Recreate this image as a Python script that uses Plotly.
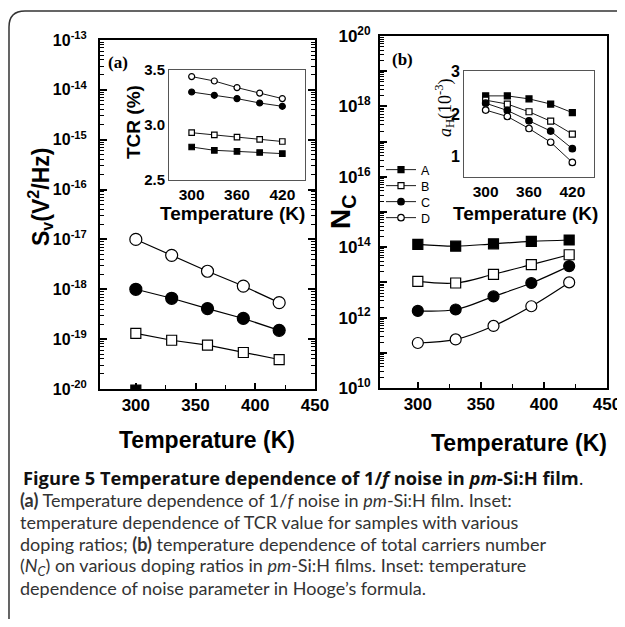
import plotly.graph_objects as go

# The page body keeps an 8px margin; the figure is sized so the page never
# overflows the 625x627 window, and all layout positions (given below in
# page pixels) are shifted by OFF.
OFF = 8
W, H = 625 - OFF, 627 - 2 * OFF

# ---------------- data ----------------
temps = [300, 330, 360, 390, 420]
series_names = ["A", "B", "C", "D"]

# Panel (a): noise PSD S_v (V^2/Hz)
sv_A = [0.95e-20, None, None, None, None]
sv_B = [1.3e-19, 9.5e-20, 7.6e-20, 5.4e-20, 3.9e-20]
sv_C = [1.0e-18, 6.6e-19, 4.1e-19, 2.6e-19, 1.5e-19]
sv_D = [1.0e-17, 4.8e-18, 2.3e-18, 1.16e-18, 5.4e-19]

# Inset (a): TCR (%)
tcr_A = [2.80, 2.77, 2.76, 2.75, 2.74]
tcr_B = [2.93, 2.91, 2.89, 2.87, 2.85]
tcr_C = [3.30, 3.27, 3.24, 3.20, 3.17]
tcr_D = [3.44, 3.40, 3.34, 3.29, 3.24]

# Panel (b): total carriers number N_C
nc_A = [1.2e14, 1.07e14, 1.25e14, 1.46e14, 1.6e14]
nc_B = [1.07e13, 9.6e12, 1.7e13, 3.2e13, 6.1e13]
nc_C = [1.55e12, 1.7e12, 4.0e12, 9.6e12, 2.9e13]
nc_D = [1.9e11, 2.4e11, 5.8e11, 2.1e12, 1.0e13]

# Inset (b): Hooge parameter a_H (10^-3)
ah_A = [2.42, 2.42, 2.35, 2.23, 2.03]
ah_B = [2.32, 2.23, 2.05, 1.83, 1.53]
ah_C = [2.25, 2.08, 1.84, 1.60, 1.19]
ah_D = [2.09, 1.94, 1.66, 1.34, 0.87]

x_ticks_main = [300, 350, 400, 450]
x_ticks_inset = [300, 360, 420]
sv_decades = list(range(-20, -12))
nc_decades = list(range(10, 21))
tcr_ticks = [2.5, 3.0, 3.5]
ah_ticks = [1, 2, 3]

# ---------------- helpers ----------------
def px(x):
    return (x - OFF) / W

def py(y):
    return 1 - (y - OFF) / H

SANS = "Liberation Sans, Arial, sans-serif"
SERIF = "Liberation Serif, Times New Roman, serif"

styles = {
    "A": dict(symbol="square", color="black"),
    "B": dict(symbol="square", color="white"),
    "C": dict(symbol="circle", color="black"),
    "D": dict(symbol="circle", color="white"),
}
legend_ids = {"A": "legend", "B": "legend2", "C": "legend3", "D": "legend4"}
legend_y = {"A": 170, "B": 186, "C": 202, "D": 218}

fig = go.Figure()

def add_series(xa, ya, ydict, size_sq, size_ci, lw, shape="linear", legend=False):
    for name in series_names:
        vals = ydict[name]
        st = styles[name]
        size = size_sq if st["symbol"] == "square" else size_ci
        fig.add_trace(go.Scatter(
            x=temps, y=vals, xaxis=xa, yaxis=ya, mode="lines+markers",
            name=name, legendgroup=name, showlegend=legend,
            legend=legend_ids[name],
            line=dict(color="black", width=lw, shape=shape),
            marker=dict(symbol=st["symbol"], color=st["color"], size=size,
                        line=dict(color="black", width=1.2)),
            connectgaps=False,
        ))

add_series("x", "y", {"A": sv_A, "B": sv_B, "C": sv_C, "D": sv_D}, 10, 12, 1.2)
add_series("x2", "y2", {"A": nc_A, "B": nc_B, "C": nc_C, "D": nc_D}, 10, 11, 1.2, shape="spline")
add_series("x3", "y3", {"A": tcr_A, "B": tcr_B, "C": tcr_C, "D": tcr_D}, 5.5, 6, 0.9)
add_series("x4", "y4", {"A": ah_A, "B": ah_B, "C": ah_C, "D": ah_D}, 6, 6.5, 0.9, legend=True)

def sup(e):
    return "10<sup>%d</sup>" % e

sv_minor = [k * 10.0 ** e for e in sv_decades[:-1] for k in range(2, 10)]
nc_minor = [k * 10.0 ** e for e in nc_decades[:-1] for k in range(2, 10)]

common = dict(showgrid=False, zeroline=False, automargin=False, ticklabeloverflow="allow")

main_x = dict(common, range=[270, 450], tickmode="array", tickvals=x_ticks_main,
              ticks="inside", ticklen=6, tickwidth=1.5, tickcolor="black",
              showline=True, linecolor="black", linewidth=2, mirror=True,
              tickfont=dict(family=SANS, size=17, color="black", weight="bold"),
              minor=dict(tickmode="array", tickvals=[325, 375, 425], ticks="inside",
                         ticklen=4, tickwidth=1.2, tickcolor="black", showgrid=False))

legends = {}
for name in series_names:
    legends[legend_ids[name]] = dict(
        x=px(381), y=py(legend_y[name]), xanchor="left", yanchor="middle",
        bgcolor="rgba(0,0,0,0)", borderwidth=0,
        font=dict(family=SANS, size=12.5, color="black"))

fig.update_layout(
    template="none",
    width=W, height=H, margin=dict(l=0, r=0, t=0, b=0, pad=0, autoexpand=False),
    paper_bgcolor="white", plot_bgcolor="rgba(0,0,0,0)",
    showlegend=True,
    xaxis=dict(main_x, domain=[px(100), px(315)], anchor="y"),
    yaxis=dict(common, type="log", range=[-20, -13], domain=[py(389), py(40)], anchor="x",
               tickmode="array", tickvals=[10.0 ** e for e in sv_decades],
               ticktext=[sup(e) for e in sv_decades],
               ticks="inside", ticklen=7, tickwidth=1.5, tickcolor="black",
               showline=True, linecolor="black", linewidth=2, mirror="ticks",
               ticklabelstandoff=8,
               tickfont=dict(family=SANS, size=16, color="black", weight="bold"),
               minor=dict(tickmode="array", tickvals=sv_minor, ticks="inside",
                          ticklen=4, tickwidth=1, tickcolor="black", showgrid=False)),
    xaxis2=dict(main_x, domain=[px(380), px(607)], anchor="y2"),
    yaxis2=dict(common, type="log", range=[10, 20], domain=[py(388), py(36)], anchor="x2",
                tickmode="array", tickvals=[10.0 ** e for e in nc_decades],
                ticktext=[sup(e) if e % 2 == 0 else "" for e in nc_decades],
                ticks="inside", ticklen=7, tickwidth=1.5, tickcolor="black",
                showline=True, linecolor="black", linewidth=2, mirror=True,
                ticklabelstandoff=4,
                tickfont=dict(family=SANS, size=17, color="black", weight="bold"),
                minor=dict(tickmode="array", tickvals=nc_minor, ticks="inside",
                           ticklen=4, tickwidth=1, tickcolor="black", showgrid=False)),
    xaxis3=dict(common, range=[270, 450], domain=[px(169), px(305)], anchor="y3",
                tickmode="array", tickvals=x_ticks_inset, ticks="",
                showline=True, linecolor="#555", linewidth=1, mirror=True,
                tickfont=dict(family=SANS, size=15.5, color="black", weight="bold")),
    yaxis3=dict(common, range=[2.5, 3.5], domain=[py(180), py(70)], anchor="x3",
                tickmode="array", tickvals=tcr_ticks, ticktext=["2.5", "3.0", "3.5"], ticks="",
                showline=True, linecolor="#555", linewidth=1, mirror=True,
                tickfont=dict(family=SANS, size=15, color="black", weight="bold")),
    xaxis4=dict(common, range=[270, 450], domain=[px(464), px(594)], anchor="y4",
                tickmode="array", tickvals=x_ticks_inset, ticks="",
                showline=True, linecolor="#555", linewidth=1, mirror=True,
                tickfont=dict(family=SANS, size=15.5, color="black", weight="bold")),
    yaxis4=dict(common, range=[0.53, 3.0], domain=[py(177), py(71)], anchor="x4",
                tickmode="array", tickvals=ah_ticks, ticks="",
                showline=True, linecolor="#555", linewidth=1, mirror=True,
                tickfont=dict(family=SANS, size=16, color="black", weight="bold")),
    **legends,
)

ann = []
def label(x, y, text, size, family=SANS, bold=True, angle=0, color="black", xanchor="center"):
    ann.append(dict(x=px(x), y=py(y), xref="paper", yref="paper", text=text,
                    showarrow=False, textangle=angle, xanchor=xanchor, yanchor="middle",
                    font=dict(family=family, size=size, color=color,
                              weight="bold" if bold else "normal")))

label(118, 62, "(a)", 17, family=SERIF)
label(402, 59, "(b)", 17, family=SERIF)
label(40, 197, "S<sub>v</sub>(V<sup>2</sup>/Hz)", 23, angle=-90)
label(343, 212, "N<sub>C</sub>", 28, angle=-90)
label(133, 122, "TCR (%)", 19, angle=-90)
label(444, 108, "<i>a</i><sub>H</sub>(10<sup>-3</sup>)", 18, family=SERIF, bold=False, angle=-90)
label(232, 213, "Temperature (K)", 19)
label(525, 213, "Temperature (K)", 19)
label(207, 440, "Temperature (K)", 23)
label(519, 443, "Temperature (K)", 23)

CAP = "Lato, Open Sans, sans-serif"
cap_lines = [
    "<b>(a)</b> Temperature dependence of 1/<i>f</i> noise in <i>pm</i>-Si:H film. Inset:",
    "temperature dependence of TCR value for samples with various",
    "doping ratios; <b>(b)</b> temperature dependence of total carriers number",
    "(<i>N<sub>C</sub></i>) on various doping ratios in <i>pm</i>-Si:H films. Inset: temperature",
    "dependence of noise parameter in Hooge’s formula.",
]
cap_y = [500, 522, 544, 566, 588]
ann.append(dict(x=px(21), y=py(477), xref="paper", yref="paper",
                text="<b>Figure 5 Temperature dependence of 1/<i>f</i> noise in <i>pm</i>-Si:H film</b>.",
                showarrow=False, xanchor="left", yanchor="middle",
                font=dict(family="Open Sans, sans-serif", size=18.3, color="#111")))
for t, yy in zip(cap_lines, cap_y):
    ann.append(dict(x=px(18), y=py(yy), xref="paper", yref="paper", text=t,
                    showarrow=False, xanchor="left", yanchor="middle",
                    font=dict(family=CAP, size=18, color="#333")))

fig.update_layout(annotations=ann)

# outer rounded frame (top-left corner visible)
def P(x, y):
    return "%.5f,%.5f" % (px(x), py(y))
path = "M " + P(9, 640) + " L " + P(9, 27) + " Q " + P(9, 11) + " " + P(25, 11) + " L " + P(640, 11)
fig.add_shape(type="path", path=path, xref="paper", yref="paper",
              line=dict(color="#333", width=1.5))

fig.write_html("out.html")
